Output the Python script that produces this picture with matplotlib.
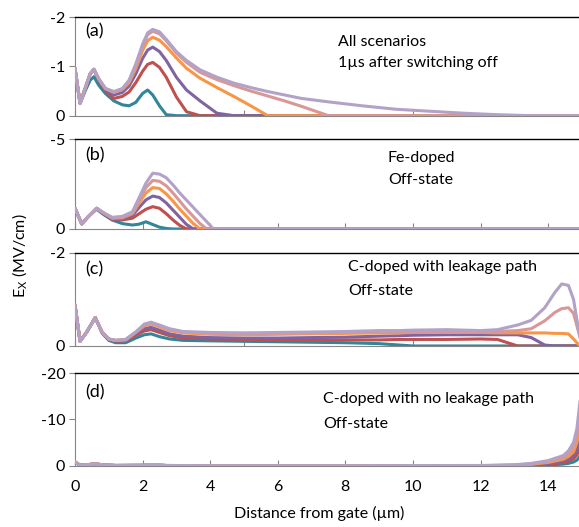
import matplotlib
matplotlib.use("Agg")
import matplotlib.pyplot as plt

plt.rcParams['font.family'] = ['Lato', 'DejaVu Sans']
plt.rcParams['axes.unicode_minus'] = False
plt.rcParams['mathtext.fontset'] = 'custom'
plt.rcParams['mathtext.rm'] = 'Lato'

## series order: bottom (teal) to top (lavender)
names = ["s1", "s2", "s3", "s4", "s5", "s6"]
colores = ["#31869B", "#C0504D", "#8064A2", "#F79646", "#D99795", "#B3A2C7"]

## (a) all scenarios, 1us after switching off
xa = [0, 0.15, 0.3, 0.45, 0.56, 0.7, 0.9, 1.15, 1.4, 1.6, 1.8, 2.0, 2.15, 2.3, 2.5, 2.7, 3.0, 3.3,
      3.7, 4.2, 4.7, 5.2, 5.7, 6.2, 6.7, 7.5, 8.5, 9.5, 10.5, 11.5, 12.5, 13.5, 15]
ea = [
    [-0.96, -0.25, -0.5, -0.72, -0.79, -0.62, -0.45, -0.3, -0.22, -0.2, -0.27, -0.45, -0.52, -0.42, -0.2, -0.02, 0, 0,
     0, 0, 0, 0, 0, 0, 0, 0, 0, 0, 0, 0, 0, 0, 0],
    [-0.96, -0.25, -0.55, -0.85, -0.94, -0.72, -0.5, -0.35, -0.39, -0.48, -0.67, -0.9, -1.04, -1.08, -0.98, -0.78, -0.38, -0.08,
     0, 0, 0, 0, 0, 0, 0, 0, 0, 0, 0, 0, 0, 0, 0],
    [-0.96, -0.25, -0.55, -0.85, -0.94, -0.74, -0.53, -0.42, -0.47, -0.6, -0.85, -1.16, -1.33, -1.39, -1.3, -1.12, -0.78, -0.52,
     -0.3, -0.05, 0, 0, 0, 0, 0, 0, 0, 0, 0, 0, 0, 0, 0],
    [-0.96, -0.25, -0.55, -0.85, -0.94, -0.75, -0.55, -0.47, -0.53, -0.67, -0.96, -1.32, -1.52, -1.59, -1.53, -1.4, -1.17, -0.96,
     -0.76, -0.57, -0.39, -0.2, 0, 0, 0, 0, 0, 0, 0, 0, 0, 0, 0],
    [-0.96, -0.25, -0.55, -0.85, -0.94, -0.75, -0.55, -0.48, -0.54, -0.7, -1.02, -1.41, -1.64, -1.71, -1.66, -1.52, -1.27, -1.08,
     -0.88, -0.73, -0.61, -0.5, -0.4, -0.3, -0.19, 0, 0, 0, 0, 0, 0, 0, 0],
    [-0.96, -0.25, -0.55, -0.85, -0.94, -0.75, -0.55, -0.49, -0.55, -0.72, -1.05, -1.45, -1.68, -1.75, -1.7, -1.55, -1.3, -1.12,
     -0.93, -0.78, -0.66, -0.57, -0.49, -0.42, -0.35, -0.28, -0.2, -0.13, -0.09, -0.05, -0.02, 0, 0],
]

## (b) Fe-doped, off-state
xb = [0, 0.2, 0.4, 0.64, 0.85, 1.1, 1.4, 1.7, 1.9, 2.1, 2.3, 2.5, 2.7, 2.9, 3.1, 3.3, 3.5, 3.7, 3.9, 4.1, 15]
eb = [
    [-1.15, -0.28, -0.7, -1.1, -0.8, -0.5, -0.3, -0.22, -0.27, -0.4, -0.25, -0.1, -0.03, 0, 0, 0, 0, 0, 0, 0, 0],
    [-1.15, -0.28, -0.7, -1.15, -0.85, -0.52, -0.5, -0.6, -0.85, -1.1, -1.24, -1.15, -0.85, -0.5, -0.2, 0, 0, 0, 0, 0, 0],
    [-1.15, -0.28, -0.7, -1.15, -0.87, -0.55, -0.56, -0.75, -1.2, -1.62, -1.83, -1.75, -1.45, -1.05, -0.65, -0.25, 0, 0, 0, 0, 0],
    [-1.15, -0.28, -0.7, -1.15, -0.88, -0.6, -0.62, -0.85, -1.45, -2.0, -2.3, -2.25, -1.95, -1.55, -1.1, -0.7, -0.3, 0, 0, 0, 0],
    [-1.15, -0.28, -0.7, -1.15, -0.89, -0.62, -0.66, -0.9, -1.6, -2.3, -2.7, -2.65, -2.4, -2.0, -1.55, -1.1, -0.7, -0.3, 0, 0, 0],
    [-1.15, -0.28, -0.7, -1.15, -0.9, -0.65, -0.7, -0.96, -1.75, -2.55, -3.1, -3.05, -2.85, -2.45, -2.0, -1.6, -1.2, -0.8, -0.4, 0, 0],
]

## (c) C-doped with leakage path, off-state
xc = [0, 0.15, 0.35, 0.6, 0.8, 1.0, 1.2, 1.5, 1.8, 2.05, 2.25, 2.5, 2.8, 3.2, 4, 5, 6, 7, 8, 9, 9.6, 10,
      11, 12, 12.5, 12.8, 13.1, 13.5, 13.9, 14.2, 14.4, 14.6, 14.75, 14.9, 15]
ec = [
    [-0.88, -0.1, -0.3, -0.61, -0.28, -0.12, -0.07, -0.07, -0.17, -0.24, -0.26, -0.2, -0.15, -0.12, -0.11, -0.1, -0.09, -0.08, -0.07, -0.05, -0.02, 0,
     0, 0, 0, 0, 0, 0, 0, 0, 0, 0, 0, 0, 0],
    [-0.88, -0.1, -0.3, -0.61, -0.29, -0.14, -0.1, -0.11, -0.23, -0.32, -0.35, -0.29, -0.22, -0.17, -0.15, -0.14, -0.13, -0.13, -0.13, -0.13, -0.14, -0.14,
     -0.14, -0.15, -0.14, -0.07, 0, 0, 0, 0, 0, 0, 0, 0, 0],
    [-0.88, -0.1, -0.3, -0.61, -0.3, -0.15, -0.11, -0.12, -0.27, -0.37, -0.4, -0.34, -0.26, -0.21, -0.18, -0.17, -0.17, -0.18, -0.19, -0.21, -0.22, -0.23,
     -0.24, -0.24, -0.24, -0.24, -0.24, -0.18, -0.02, 0, 0, 0, 0, 0, 0],
    [-0.88, -0.1, -0.3, -0.61, -0.3, -0.15, -0.12, -0.13, -0.29, -0.43, -0.47, -0.41, -0.33, -0.28, -0.25, -0.24, -0.25, -0.26, -0.27, -0.28, -0.28, -0.29,
     -0.29, -0.29, -0.28, -0.28, -0.28, -0.28, -0.28, -0.27, -0.27, -0.26, -0.15, -0.03, 0],
    [-0.88, -0.1, -0.3, -0.61, -0.3, -0.15, -0.12, -0.14, -0.3, -0.45, -0.49, -0.43, -0.35, -0.3, -0.27, -0.27, -0.27, -0.28, -0.29, -0.3, -0.3, -0.3,
     -0.31, -0.3, -0.31, -0.32, -0.33, -0.37, -0.54, -0.72, -0.8, -0.82, -0.7, -0.3, 0],
    [-0.88, -0.1, -0.3, -0.61, -0.3, -0.15, -0.12, -0.14, -0.3, -0.47, -0.51, -0.45, -0.37, -0.31, -0.29, -0.28, -0.29, -0.3, -0.31, -0.33, -0.33, -0.34,
     -0.35, -0.33, -0.35, -0.4, -0.45, -0.55, -0.82, -1.15, -1.33, -1.3, -1.0, -0.35, 0],
]

## (d) C-doped with no leakage path, off-state
xd = [0, 0.15, 0.35, 0.6, 0.85, 1.2, 2.0, 2.3, 2.7, 4, 8, 12, 13, 13.5, 14, 14.45, 14.6, 14.75, 14.85, 14.92, 15]
ed = [
    [-0.8, -0.1, -0.2, -0.4, -0.15, -0.05, -0.05, -0.1, -0.02, 0, 0, 0, 0, -0.05, -0.15, -0.35, -0.5, -0.8, -1.2, -1.8, -3],
    [-0.8, -0.1, -0.2, -0.4, -0.15, -0.05, -0.08, -0.15, -0.03, 0, 0, 0, -0.03, -0.1, -0.3, -0.7, -1.0, -1.5, -2.3, -3.5, -5],
    [-0.8, -0.1, -0.2, -0.4, -0.15, -0.05, -0.08, -0.18, -0.04, 0, 0, 0, -0.05, -0.2, -0.5, -1.0, -1.5, -2.2, -3.5, -5, -8],
    [-0.8, -0.1, -0.2, -0.4, -0.15, -0.05, -0.1, -0.2, -0.05, 0, 0, 0, -0.1, -0.3, -0.7, -1.4, -2.0, -3.0, -5, -7.5, -11],
    [-0.8, -0.1, -0.2, -0.4, -0.15, -0.05, -0.1, -0.22, -0.05, 0, 0, 0, -0.15, -0.4, -0.9, -1.8, -2.6, -4, -6.5, -10, -15],
    [-0.8, -0.1, -0.2, -0.4, -0.15, -0.05, -0.1, -0.25, -0.05, 0, 0, -0.05, -0.2, -0.5, -1.1, -2.2, -3.2, -5, -8, -12.5, -18],
]

etiquetas = ["(a)", "(b)", "(c)", "(d)"]
textos = [["All scenarios", "1\u00b5s after switching off"],
          ["Fe-doped", "Off-state"],
          ["C-doped with leakage path", "Off-state"],
          ["C-doped with no leakage path", "Off-state"]]

fig = plt.figure(figsize=(5.79, 5.27), dpi=100)

## posiciones de los paneles (fraccion de figura)
cajas = [[0.1295, 0.7805, 0.8756, 0.1872],
         [0.1295, 0.5655, 0.8756, 0.1707],
         [0.1295, 0.3435, 0.8756, 0.1770],
         [0.1295, 0.1163, 0.8756, 0.1759]]
limites = [-2, -5, -2, -20]
yticks = [[0, -1, -2], [0, -5], [0, -2], [0, -10, -20]]
xticks = [[0, 5, 10, 15], [0, 2, 4, 6, 8, 10, 12, 14], [0, 5, 10, 15], [0, 2, 4, 6, 8, 10, 12, 14]]
## posiciones de los textos (x, y1, y2, y etiqueta)
pos_txt = [[7.78, -1.5, -1.07, -1.7], [9.26, -3.94, -2.72, -4.1],
           [8.08, -1.7, -1.18, -1.65], [7.34, -14.3, -9.0, -15.8]]

datos = [(xa, ea), (xb, eb), (xc, ec), (xd, ed)]
gris = "#868686"
fs = 11.5

for k in range(4):
    ax = fig.add_axes(cajas[k])
    xs, ys = datos[k]
    for i in range(6):
        ax.plot(xs, ys[i], color=colores[i], lw=2.2, solid_capstyle='round', zorder=2 + i)
    ax.set_xlim(0, 15)
    ax.set_ylim(0, limites[k])
    ax.set_yticks(yticks[k])
    ax.set_xticks(xticks[k])
    ax.spines['right'].set_visible(False)
    ax.spines['top'].set_color('black')
    ax.spines['top'].set_linewidth(1.0)
    ax.spines['left'].set_color(gris)
    ax.spines['bottom'].set_color(gris)
    ax.tick_params(axis='y', direction='out', length=4, color=gris, labelsize=fs, pad=3)
    ax.tick_params(axis='x', direction='in', length=4, color=gris, labelsize=fs, pad=10)
    if k < 3:
        ax.set_xticklabels([])
    px = pos_txt[k]
    ax.text(0.3, px[3], etiquetas[k], fontsize=13, va='center')
    ax.text(px[0], px[1], textos[k][0], fontsize=fs, va='center')
    ax.text(px[0], px[2], textos[k][1], fontsize=fs, va='center')

fig.text(0.033, 0.515, r'$\mathregular{E_X}$ (MV/cm)', rotation=90, fontsize=fs,
         ha='center', va='center')
fig.text(0.552, 0.012, "Distance from gate (\u00b5m)", fontsize=fs, ha='center', va='bottom')

fig.savefig("out.png", dpi=100)
